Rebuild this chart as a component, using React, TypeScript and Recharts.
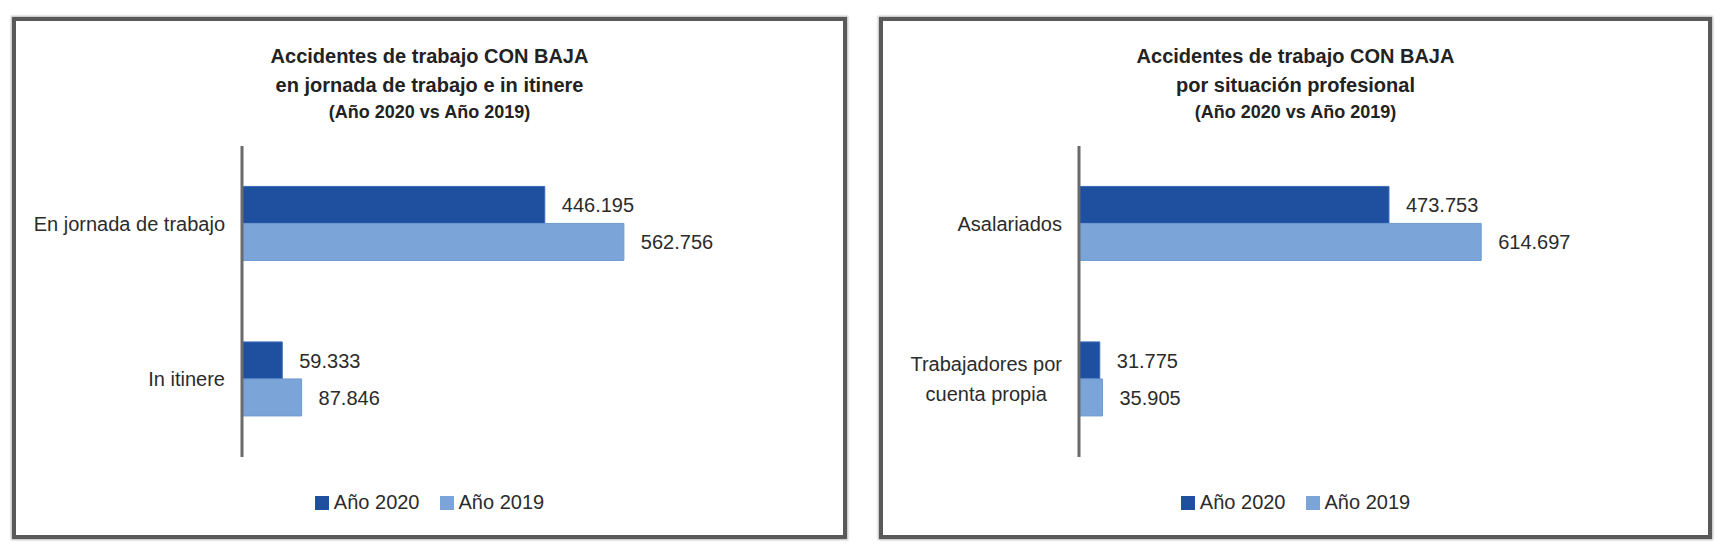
import React from 'react';
import { BarChart, Bar, XAxis, YAxis, LabelList, Legend } from 'recharts';

// --- data ---
const leftCategories = ['En jornada de trabajo', 'In itinere'];
const left2020 = [446195, 59333];
const left2019 = [562756, 87846];
const leftTitle = ['Accidentes de trabajo CON BAJA', 'en jornada de trabajo e in itinere', '(Año 2020 vs Año 2019)'];

const rightCategories = ['Asalariados', 'Trabajadores por cuenta propia'];
const right2020 = [473753, 31775];
const right2019 = [614697, 35905];
const rightTitle = ['Accidentes de trabajo CON BAJA', 'por situación profesional', '(Año 2020 vs Año 2019)'];

const seriesNames = ['Año 2020', 'Año 2019'];
const seriesColors = ['#1f4f9f', '#7ba5d8'];

const FONT = '"Liberation Sans", Arial, sans-serif';

function fmt(v: number) {
  return String(v).replace(/\B(?=(\d{3})+(?!\d))/g, '.');
}

let ctx: CanvasRenderingContext2D | null = null;
function measure(text: string, size: number) {
  if (!ctx) ctx = document.createElement('canvas').getContext('2d');
  if (!ctx) return text.length * size * 0.5;
  ctx.font = `${size}px ${FONT}`;
  return ctx.measureText(text).width;
}

function wrap(text: string, maxW: number, size: number) {
  const words = text.split(' ');
  const lines: string[] = [];
  let cur = '';
  words.forEach((w) => {
    const next = cur ? cur + ' ' + w : w;
    if (cur && measure(next, size) > maxW) {
      lines.push(cur);
      cur = w;
    } else cur = next;
  });
  if (cur) lines.push(cur);
  return lines;
}

function CategoryTick(props: any) {
  const { x, y, payload, maxW } = props;
  const size = 20;
  const lines = wrap(payload.value, maxW, size);
  if (lines.length === 1) {
    return (
      <text x={x} y={y} dy="0.35em" textAnchor="end" fontSize={size} fill="#2b2b2b" fontFamily={FONT}>
        {lines[0]}
      </text>
    );
  }
  const w = Math.max(...lines.map((l) => measure(l, size)));
  const lh = 30;
  const top = y - ((lines.length - 1) * lh) / 2;
  return (
    <text x={x - w / 2} y={top} textAnchor="middle" fontSize={size} fill="#2b2b2b" fontFamily={FONT}>
      {lines.map((l, i) => (
        <tspan key={i} x={x - w / 2} y={top + i * lh} dy="0.35em">
          {l}
        </tspan>
      ))}
    </text>
  );
}

function LegendContent() {
  return (
    <div style={{ display: 'flex', justifyContent: 'center', alignItems: 'center', fontFamily: FONT, fontSize: 20, color: '#2b2b2b' }}>
      {seriesNames.map((n, i) => (
        <div key={n} style={{ display: 'flex', alignItems: 'center', marginLeft: i ? 20 : 0 }}>
          <span style={{ display: 'inline-block', width: 14, height: 14, background: seriesColors[i], marginRight: 5 }} />
          <span>{n}</span>
        </div>
      ))}
    </div>
  );
}

interface PanelProps {
  left: number;
  width: number;
  title: string[];
  categories: string[];
  v2020: number[];
  v2019: number[];
  axisWidth: number;
  rightMargin: number;
  labelMaxW: number;
}

function Panel({ left, width, title, categories, v2020, v2019, axisWidth, rightMargin, labelMaxW }: PanelProps) {
  const inner = width - 8;
  const height = 514;
  const data = categories.map((name, i) => ({ name, a: v2020[i], b: v2019[i] }));
  const titleTops = [35, 64, 91];
  return (
    <div
      style={{
        position: 'absolute',
        left,
        top: 17,
        width,
        height: 522,
        boxSizing: 'border-box',
        border: '4px solid #595959',
        boxShadow: '0 0 2px 1px #b8b8b8',
        background: '#fff',
      }}
    >
      {title.map((t, i) => (
        <div
          key={i}
          style={{
            position: 'absolute',
            left: 0,
            width: inner,
            top: titleTops[i] - 12,
            height: 24,
            lineHeight: '24px',
            textAlign: 'center',
            fontFamily: FONT,
            fontWeight: 'bold',
            fontSize: i === 2 ? 18 : 20,
            color: '#222',
            whiteSpace: 'nowrap',
          }}
        >
          {t}
        </div>
      ))}
      <div style={{ position: 'absolute', left: 0, top: 0 }}>
        <BarChart
          width={inner}
          height={height}
          data={data}
          layout="vertical"
          margin={{ top: 125, right: rightMargin, bottom: 78, left: 0 }}
          barCategoryGap="26%"
          barGap={0}
        >
          <XAxis type="number" domain={[0, 700000]} hide />
          <YAxis
            type="category"
            dataKey="name"
            width={axisWidth}
            axisLine={{ stroke: '#6b6b6b', strokeWidth: 3 }}
            tickLine={false}
            tickSize={0}
            tickMargin={17}
            tick={<CategoryTick maxW={labelMaxW} />}
            interval={0}
          />
          <Legend
            layout="horizontal"
            verticalAlign="middle"
            align="center"
            content={<LegendContent />}
            wrapperStyle={{ top: 470, left: 0, width: inner }}
          />
          <Bar dataKey="a" name={seriesNames[0]} fill={seriesColors[0]} stroke="#3a6bb8" strokeWidth={1} isAnimationActive={false}>
            <LabelList dataKey="a" position="right" offset={17} formatter={(v: any) => fmt(Number(v))} fill="#2b2b2b" fontSize={20} fontFamily={FONT} />
          </Bar>
          <Bar dataKey="b" name={seriesNames[1]} fill={seriesColors[1]} stroke="#6e9ad0" strokeWidth={1} isAnimationActive={false}>
            <LabelList dataKey="b" position="right" offset={17} formatter={(v: any) => fmt(Number(v))} fill="#2b2b2b" fontSize={20} fontFamily={FONT} />
          </Bar>
        </BarChart>
      </div>
    </div>
  );
}

export default function App() {
  return (
    <div style={{ position: 'absolute', left: 0, top: 0, width: 1723, height: 552, background: '#fff', overflow: 'hidden' }}>
      <Panel
        left={12}
        width={835}
        title={leftTitle}
        categories={leftCategories}
        v2020={left2020}
        v2019={left2019}
        axisWidth={226}
        rightMargin={126}
        labelMaxW={215}
      />
      <Panel
        left={879}
        width={833}
        title={rightTitle}
        categories={rightCategories}
        v2020={right2020}
        v2019={right2019}
        axisWidth={196}
        rightMargin={171}
        labelMaxW={175}
      />
    </div>
  );
}
